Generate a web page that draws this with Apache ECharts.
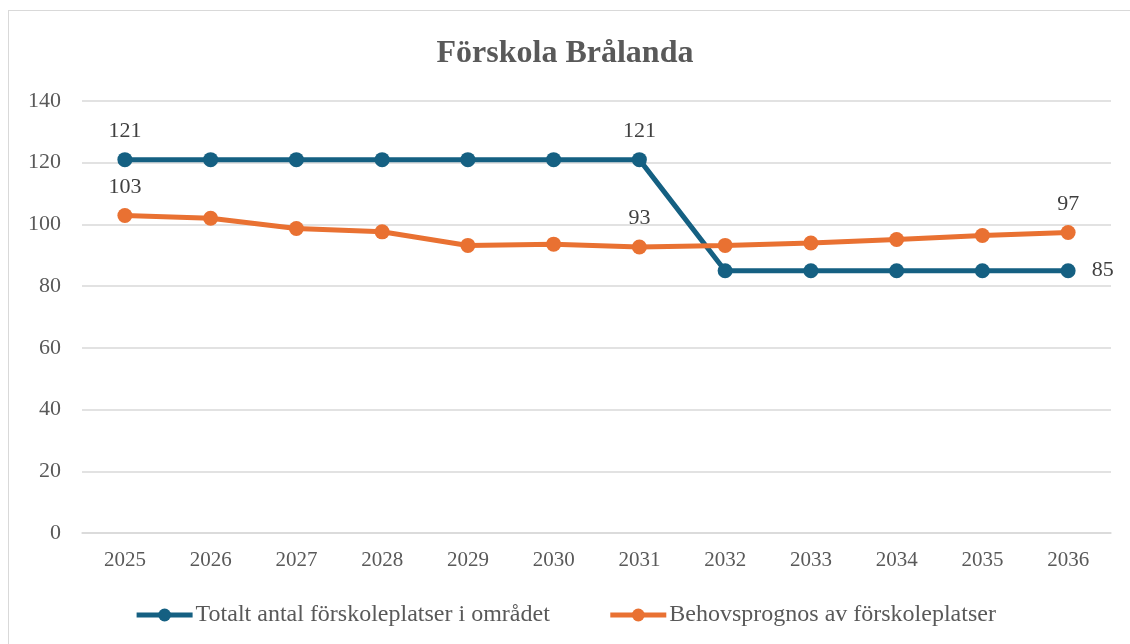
<!DOCTYPE html>
<html lang="sv">
<head>
  <meta charset="UTF-8" />
  <title>Förskola Brålanda</title>
  <script src="https://cdn.jsdelivr.net/npm/echarts@6/dist/echarts.min.js"></script>
  <style>
    html, body {
      margin: 0;
      padding: 0;
      background: #fff;
      overflow: hidden;
    }
    #frame {
      position: absolute;
      left: 8px;
      top: 10px;
      width: 1140px;
      height: 660px;
      border: 1px solid #d9d9d9;
      box-sizing: border-box;
    }
    #chart {
      position: absolute;
      left: 0;
      top: 0;
      width: 1130px;
      height: 644px;
    }
  </style>
</head>
<body>
  <div id="frame"></div>
  <div id="chart"></div>

  <script>
    const years = ['2025', '2026', '2027', '2028', '2029', '2030', '2031', '2032', '2033', '2034', '2035', '2036'];
    const totalPlaces = [121, 121, 121, 121, 121, 121, 121, 85, 85, 85, 85, 85];
    const forecast = [102.9, 102.0, 98.7, 97.6, 93.2, 93.6, 92.7, 93.2, 94.0, 95.1, 96.4, 97.4];
    // which points carry a value label
    const totalLabelIdx = [0, 6, 11];
    const forecastLabelIdx = [0, 6, 11];

    const FONT = '"Liberation Serif", "Times New Roman", serif';
    const BLUE = '#156082';
    const ORANGE = '#e97132';

    const chart = echarts.init(document.getElementById('chart'));

    function withLabels(values, idx, lastPos) {
      return values.map((v, i) => {
        if (!idx.includes(i)) return v;
        const isLast = i === values.length - 1 && lastPos;
        return {
          value: v,
          label: {
            show: true,
            position: isLast ? lastPos : 'top',
            distance: isLast ? 16 : 10,
            formatter: p => Math.round(p.value)
          }
        };
      });
    }

    const option = {
      animation: false,
      textStyle: { fontFamily: FONT },
      title: {
        text: 'Förskola Brålanda',
        left: 'center',
        top: 33,
        textStyle: {
          fontFamily: FONT,
          fontSize: 32,
          fontWeight: 'bold',
          color: '#595959'
        }
      },
      legend: {
        top: 598,
        left: 'center',
        itemWidth: 56,
        itemHeight: 16,
        itemGap: 58,
        lineStyle: { width: 5 },
        textStyle: { fontFamily: FONT, fontSize: 24, color: '#595959', padding: [0, 0, 0, -2] },
        data: ['Totalt antal förskoleplatser i området', 'Behovsprognos av förskoleplatser']
      },
      grid: { left: 82, right: 19, top: 101, bottom: 111, containLabel: false },
      xAxis: {
        type: 'category',
        data: years,
        boundaryGap: true,
        axisLine: { show: true, lineStyle: { color: '#d9d9d9', width: 1.5 } },
        axisTick: { show: false },
        axisLabel: { color: '#595959', fontSize: 21, fontFamily: FONT, margin: 17 }
      },
      yAxis: {
        type: 'value',
        min: 0,
        max: 140,
        interval: 20,
        axisLine: { show: false },
        axisTick: { show: false },
        axisLabel: { color: '#595959', fontSize: 22, fontFamily: FONT, margin: 21 },
        splitLine: { lineStyle: { color: '#d9d9d9', width: 1.5 } }
      },
      series: [
        {
          name: 'Totalt antal förskoleplatser i området',
          type: 'line',
          data: withLabels(totalPlaces, totalLabelIdx, 'right'),
          symbol: 'circle',
          symbolSize: 15,
          lineStyle: { color: BLUE, width: 5 },
          itemStyle: { color: BLUE },
          label: { show: false, color: '#404040', fontSize: 22, fontFamily: FONT }
        },
        {
          name: 'Behovsprognos av förskoleplatser',
          type: 'line',
          data: withLabels(forecast, forecastLabelIdx, null),
          symbol: 'circle',
          symbolSize: 15,
          lineStyle: { color: ORANGE, width: 5 },
          itemStyle: { color: ORANGE },
          label: { show: false, color: '#404040', fontSize: 22, fontFamily: FONT }
        }
      ]
    };

    chart.setOption(option);
  </script>
</body>
</html>
